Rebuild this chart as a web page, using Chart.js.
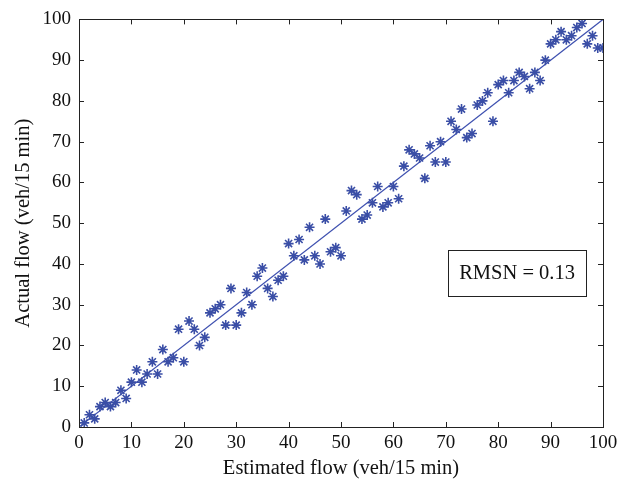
<!DOCTYPE html>
<html>
<head>
<meta charset="utf-8">
<script src="https://cdn.jsdelivr.net/npm/chart.js@4.4.0/dist/chart.umd.min.js"></script>
<style>
  html, body { margin: 0; padding: 0; background: #fff; }
  #wrap { width: 635px; height: 488px; }
</style>
</head>
<body>
<div id="wrap"><canvas id="grafico" width="635" height="488"></canvas></div>
<script>
// estimated flow (x) and actual flow (y), veh/15 min
const estimado = [];
for (let i = 1; i <= 100; i++) estimado.push(i);
const real = [
  1, 3, 2, 5, 6, 5, 6, 9, 7, 11,
  14, 11, 13, 16, 13, 19, 16, 17, 24, 16,
  26, 24, 20, 22, 28, 29, 30, 25, 34, 25,
  28, 33, 30, 37, 39, 34, 32, 36, 37, 45,
  42, 46, 41, 49, 42, 40, 51, 43, 44, 42,
  53, 58, 57, 51, 52, 55, 59, 54, 55, 59,
  56, 64, 68, 67, 66, 61, 69, 65, 70, 65,
  75, 73, 78, 71, 72, 79, 80, 82, 75, 84,
  85, 82, 85, 87, 86, 83, 87, 85, 90, 94,
  95, 97, 95, 96, 98, 99, 94, 96, 93, 93
];
const linhaX = [0, 100];
const linhaY = [0, 100];
const ticksEixo = [0, 10, 20, 30, 40, 50, 60, 70, 80, 90, 100];
const rotuloX = "Estimated flow (veh/15 min)";
const rotuloY = "Actual flow (veh/15 min)";
const textoCaixa = "RMSN = 0.13";
const posCaixa = { x: 83.6, y: 37.8 }; // in data units

const azul = "#3a4ea6";
const fonte = "'Liberation Serif', 'DejaVu Serif', serif";

// box + inward ticks on all four sides, like the original
const moldura = {
  id: "moldura",
  afterDraw(chart) {
    const ctx = chart.ctx;
    const a = chart.chartArea;
    const sx = chart.scales.x, sy = chart.scales.y;
    ctx.save();
    ctx.strokeStyle = "#222";
    ctx.lineWidth = 1;
    ctx.strokeRect(Math.round(a.left) + 0.5, Math.round(a.top) + 0.5,
      Math.round(a.right - a.left), Math.round(a.bottom - a.top));
    const t = 5;
    ctx.beginPath();
    ticksEixo.forEach(v => {
      const px = Math.round(sx.getPixelForValue(v)) + 0.5;
      ctx.moveTo(px, a.bottom); ctx.lineTo(px, a.bottom - t);
      ctx.moveTo(px, a.top); ctx.lineTo(px, a.top + t);
      const py = Math.round(sy.getPixelForValue(v)) + 0.5;
      ctx.moveTo(a.left, py); ctx.lineTo(a.left + t, py);
      ctx.moveTo(a.right, py); ctx.lineTo(a.right - t, py);
    });
    ctx.stroke();

    // RMSN text box
    ctx.font = "20.5px " + fonte;
    ctx.textAlign = "center";
    ctx.textBaseline = "middle";
    const cx = sx.getPixelForValue(posCaixa.x);
    const cy = sy.getPixelForValue(posCaixa.y);
    const w = 138, h = 46;
    ctx.fillStyle = "#fff";
    ctx.fillRect(cx - w / 2, cy - h / 2, w, h);
    ctx.strokeRect(Math.round(cx - w / 2) + 0.5, Math.round(cy - h / 2) + 0.5, w, h);
    ctx.fillStyle = "#111";
    ctx.fillText(textoCaixa, cx, cy + 1);
    ctx.restore();
  }
};

new Chart(document.getElementById("grafico"), {
  type: "scatter",
  data: {
    datasets: [
      {
        label: "Data",
        data: estimado.map((x, i) => ({ x: x, y: real[i] })),
        pointStyle: "star",
        radius: 5,
        borderColor: azul,
        backgroundColor: azul,
        borderWidth: 1.6,
        order: 1
      },
      {
        label: "Fit",
        type: "line",
        data: linhaX.map((x, i) => ({ x: x, y: linhaY[i] })),
        borderColor: "#3f51b0",
        borderWidth: 1.2,
        pointRadius: 0,
        fill: false,
        order: 2
      }
    ]
  },
  options: {
    responsive: false,
    animation: false,
    layout: { padding: { left: 0, right: 32, top: 14, bottom: 0 } },
    plugins: {
      legend: { display: false },
      tooltip: { enabled: false }
    },
    scales: {
      x: {
        type: "linear",
        min: 0, max: 100,
        afterBuildTicks: s => { s.ticks = ticksEixo.map(v => ({ value: v })); },
        afterFit: s => { s.height = 61; },
        grid: { display: false, drawTicks: false },
        border: { display: false },
        ticks: { color: "#111", padding: 5, font: { family: fonte, size: 19 } },
        title: { display: true, text: rotuloX, color: "#111", padding: { top: 0, bottom: 7 },
          font: { family: fonte, size: 20.5 } }
      },
      y: {
        type: "linear",
        min: 0, max: 100,
        afterBuildTicks: s => { s.ticks = ticksEixo.map(v => ({ value: v })); },
        afterFit: s => { s.width = 79; },
        grid: { display: false, drawTicks: false },
        border: { display: false },
        ticks: { color: "#111", padding: 8, font: { family: fonte, size: 19 } },
        title: { display: true, text: rotuloY, color: "#111", padding: { top: 11, bottom: 0 },
          font: { family: fonte, size: 20.5 } }
      }
    }
  },
  plugins: [moldura]
});
</script>
</body>
</html>
